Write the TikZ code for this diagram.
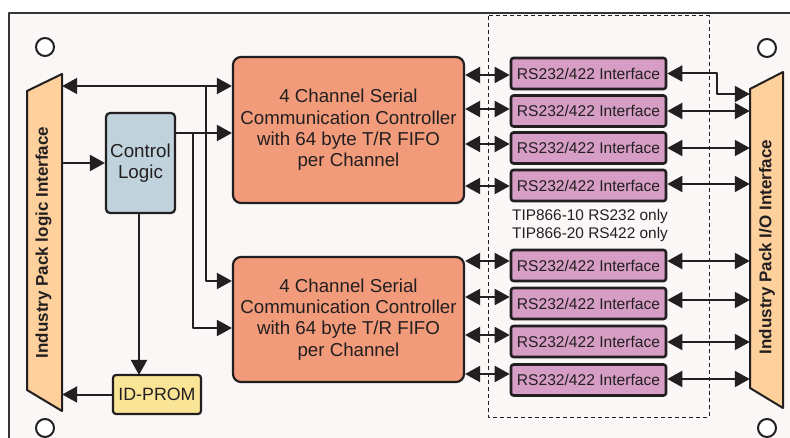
\documentclass[tikz,border=0pt]{standalone}
\usepackage{fontspec}
\setmainfont{Liberation Sans}
\usetikzlibrary{arrows.meta,shadows}
\definecolor{ink}{HTML}{231F20}
\definecolor{bgc}{HTML}{F9F8F6}
\definecolor{trapc}{HTML}{FDD09C}
\definecolor{clc}{HTML}{C0D3DD}
\definecolor{idc}{HTML}{FAE596}
\definecolor{sccc}{HTML}{F29B7B}
\definecolor{rsc}{HTML}{D69DC5}
\begin{document}
\begin{tikzpicture}[x=1pt,y=-1pt,line join=round,
  tip/.tip={Triangle[length=15pt,width=16pt]},
  dbl/.style={draw=ink,line width=2pt,{tip}-{tip}},
  sgl/.style={draw=ink,line width=2pt,-{tip}},
  rs/.style={draw=ink,line width=2.6pt,fill=rsc,rounded corners=2.5pt,minimum width=155pt,minimum height=31pt,inner sep=0pt,text=ink,font=\fontsize{15.6}{18}\selectfont,drop shadow={shadow xshift=0.8pt,shadow yshift=-0.8pt,fill=black!45,opacity=0.45}},
  scc/.style={draw=ink,line width=2.2pt,fill=sccc,rounded corners=8pt,minimum width=231pt,inner sep=0pt,text=ink,align=center,font=\fontsize{18.7}{21.3}\selectfont},
  trap/.style={draw=ink,line width=2pt,fill=trapc},
  hole/.style={draw=ink,line width=2pt,fill=white},
  lbl/.style={rotate=90,text=ink,font=\fontsize{17}{20}\selectfont\bfseries},
  anchorbox/.style={inner sep=0pt,minimum width=35pt,draw=none}]
\useasboundingbox (0,0) rectangle (790,438);
\fill[white] (0,0) rectangle (790,438);
\fill[bgc] (9,13) rectangle (800,450);
\draw[draw=ink!90,line width=2pt] (800,13) -- (9,13) -- (9,450);
% holes
\draw[hole] (45,47) circle (9);
\draw[hole] (45,428) circle (9);
\draw[hole] (767,48) circle (9);
\draw[hole] (767,428) circle (9);
% dashed region
\draw[draw=ink,line width=1pt,dash pattern=on 4pt off 3pt] (488,16) rectangle (709,417);
% trapezoids
\draw[trap] (27,91) -- (62,74) -- (62,411) -- (27,390) -- cycle;
\node[anchorbox,minimum height=337pt] (ipl) at (44.5,242.5) {};
\node[lbl] at (43.5,242.5) {Industry Pack logic Interface};
\draw[trap] (750,89) -- (783,72) -- (783,408) -- (750,388) -- cycle;
\node[anchorbox,minimum height=336pt,minimum width=33pt] (ipo) at (766.5,240) {};
\node[lbl] at (767,247) {Industry Pack I/O Interface};
% blocks
\node[draw=ink,line width=2.2pt,fill=clc,rounded corners=4pt,minimum width=69pt,minimum height=100pt,inner sep=0pt,align=center,text=ink,font=\fontsize{18.8}{20.7}\selectfont] (cl) at (140.5,163) {Control\\Logic};
\node[draw=ink,line width=2.2pt,fill=idc,rounded corners=3pt,minimum width=88pt,minimum height=39pt,inner sep=0pt,text=ink,font=\fontsize{17.8}{20}\selectfont] (idp) at (157,394.5) {ID-PROM};
\node[scc,minimum height=146pt] (s1) at (348.5,130) {4 Channel Serial\\Communication Controller\\with 64 byte T/R FIFO\\per Channel};
\node[scc,minimum height=125pt] (s2) at (348.5,319.5) {4 Channel Serial\\Communication Controller\\with 64 byte T/R FIFO\\per Channel};
% RS interfaces
\node[rs] (r1) at (588.5,73.5) {RS232/422 Interface};
\node[rs] (r2) at (588.5,111) {RS232/422 Interface};
\node[rs] (r3) at (588.5,148) {RS232/422 Interface};
\node[rs] (r4) at (588.5,185.5) {RS232/422 Interface};
\node[rs] (r5) at (588.5,265.5) {RS232/422 Interface};
\node[rs] (r6) at (588.5,303.5) {RS232/422 Interface};
\node[rs] (r7) at (588.5,341.5) {RS232/422 Interface};
\node[rs] (r8) at (588.5,380) {RS232/422 Interface};
\node[align=center,text=ink,font=\fontsize{15.4}{18}\selectfont] (note) at (590,225.5) {TIP866-10 RS232 only\\TIP866-20 RS422 only};
% left connectors
\draw[dbl] (ipl.east |- 0,86) -- (s1.west |- 0,86);
\coordinate (j1) at (206,86);
\draw[sgl] (j1) |- (s2.west |- 0,281);
\draw[sgl] (cl.east |- 0,133) -- (s1.west |- 0,133);
\coordinate (j2) at (193,133);
\draw[sgl] (j2) |- (s2.west |- 0,328);
\draw[sgl] (ipl.east |- cl.west) -- (cl.west);
\draw[sgl] (139,213) -- (139,375);
\draw[sgl] (idp.west) -- (ipl.east |- idp.west);
% SCC <-> RS
\draw[dbl] (s1.east |- 0,75) -- (r1.west |- 0,75);
\draw[dbl] (s1.east |- 0,109) -- (r2.west |- 0,109);
\draw[dbl] (s1.east |- 0,144) -- (r3.west |- 0,144);
\draw[dbl] (s1.east |- 0,186) -- (r4.west |- 0,186);
\draw[dbl] (s2.east |- 0,261) -- (r5.west |- 0,261);
\draw[dbl] (s2.east |- 0,297) -- (r6.west |- 0,297);
\draw[dbl] (s2.east |- 0,335) -- (r7.west |- 0,335);
\draw[dbl] (s2.east |- 0,374) -- (r8.west |- 0,374);
% RS <-> IO
\draw[dbl] (r1.east) -- (717,73.5) |- (ipo.west |- 0,94);
\draw[dbl] (r2.east |- 0,111) -- (ipo.west |- 0,111);
\draw[dbl] (r3.east |- 0,148) -- (ipo.west |- 0,148);
\draw[dbl] (r4.east |- 0,184) -- (ipo.west |- 0,184);
\draw[dbl] (r5.east |- 0,261) -- (ipo.west |- 0,261);
\draw[dbl] (r6.east |- 0,300) -- (ipo.west |- 0,300);
\draw[dbl] (r7.east |- 0,342) -- (ipo.west |- 0,342);
\draw[dbl] (r8.east |- 0,379) -- (ipo.west |- 0,379);
\end{tikzpicture}
\end{document}
